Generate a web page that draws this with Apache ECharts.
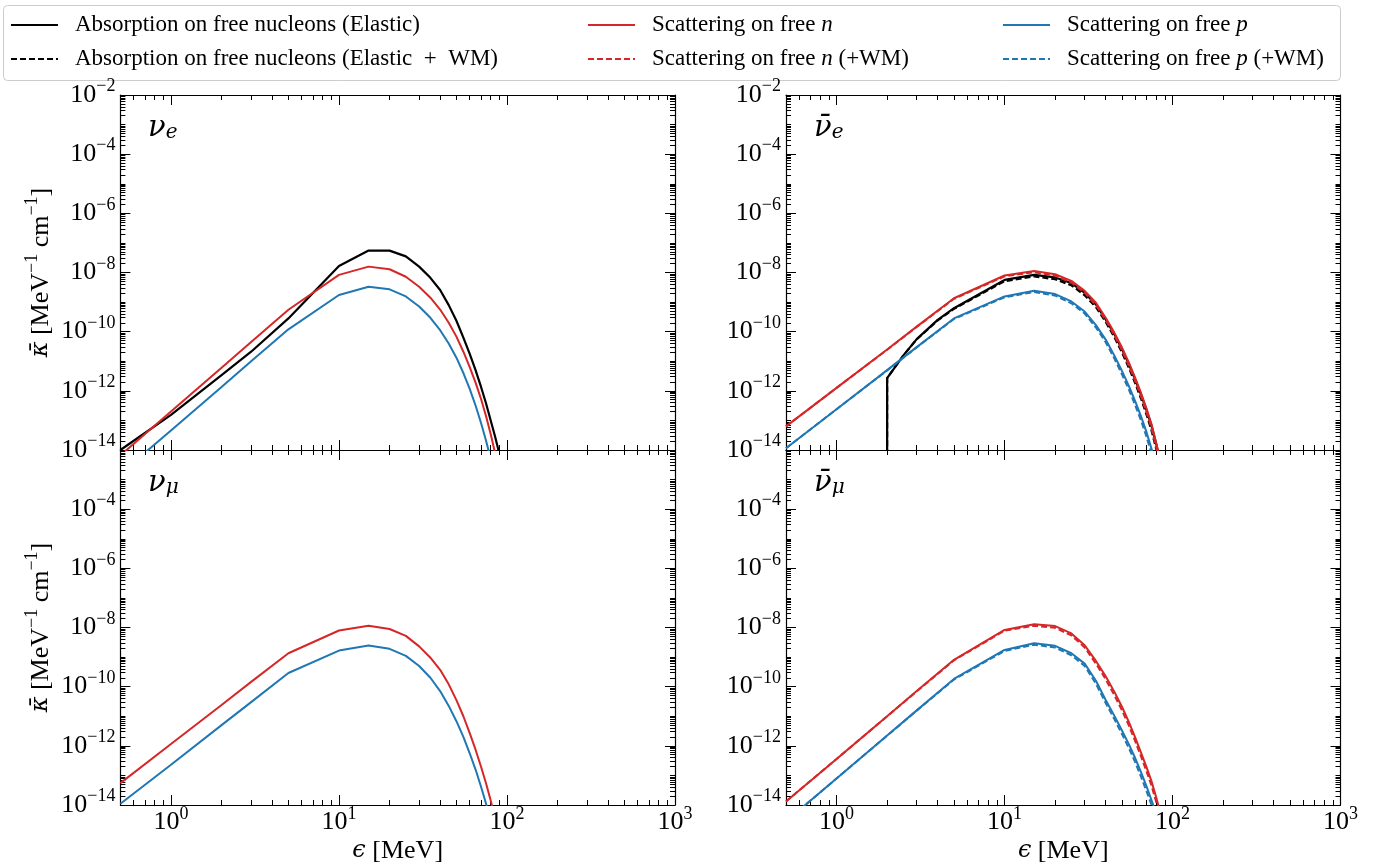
<!DOCTYPE html>
<html>
<head>
<meta charset="utf-8">
<script src="https://cdn.jsdelivr.net/npm/echarts@6/dist/echarts.min.js"></script>
<style>
html, body { margin: 0; padding: 0; background: #ffffff; }
#chart { width: 1376px; height: 865px; }
</style>
</head>
<body>
<div id="chart"></div>
<script>
// Neutrino energy grid [MeV]
const energy = [0.5, 1, 2, 3, 5, 10, 15, 20, 25, 30, 35, 40, 45, 50, 55, 60, 65, 70, 75, 80, 85, 90];
// anti-nu_e absorption has a threshold near 2 MeV (first point lies below the plotted range)
const energyAbsAnuE = [2, 2, 2.5, 3, 4, 5, 10, 15, 20, 25, 30, 35, 40, 45, 50, 55, 60, 65, 70, 75, 80, 85, 90];

// nu_e  [MeV^-1 cm^-1]
const absNuE   = [1.0e-14, 1.55e-13, 3.4e-12, 2.1e-11, 2.8e-10, 1.66e-8, 5.5e-8, 5.5e-8, 3.5e-8, 1.58e-8, 6.6e-9, 2.57e-9, 7.9e-10, 2.34e-10, 6.3e-11, 1.78e-11, 5.0e-12, 1.38e-12, 3.8e-13, 1.0e-13, 2.8e-14, 7.6e-15];
const scatNNuE = [6.6e-15, 2.0e-13, 6.0e-12, 4.5e-11, 5.5e-10, 8.3e-9, 1.58e-8, 1.29e-8, 7.2e-9, 3.3e-9, 1.41e-9, 5.6e-10, 2.0e-10, 6.8e-11, 2.1e-11, 6.3e-12, 1.9e-12, 5.4e-13, 1.41e-13, 3.4e-14, 7.9e-15, 1.8e-15];
const scatPNuE = [1.58e-15, 4.6e-14, 1.35e-12, 1.0e-11, 1.2e-10, 1.74e-9, 3.3e-9, 2.7e-9, 1.55e-9, 7.1e-10, 2.95e-10, 1.12e-10, 4.0e-11, 1.32e-11, 4.0e-12, 1.17e-12, 3.2e-13, 8.3e-14, 2.1e-14, 5.0e-15, 1.26e-15, 3.2e-16];

// anti-nu_e
const absAnuE     = [1e-16, 2.7e-12, 1.58e-11, 5.6e-11, 2.5e-10, 6.2e-10, 5.6e-9, 8.3e-9, 6.8e-9, 4.4e-9, 2.04e-9, 8.3e-10, 2.6e-10, 8.3e-11, 2.6e-11, 7.9e-12, 2.4e-12, 7.4e-13, 2.24e-13, 6.6e-14, 1.58e-14, 3.5e-15, 7.9e-16];
const absAnuEWM   = [1e-16, 2.7e-12, 1.58e-11, 5.5e-11, 2.4e-10, 5.9e-10, 5.1e-9, 7.4e-9, 5.9e-9, 3.7e-9, 1.7e-9, 6.8e-10, 2.14e-10, 6.6e-11, 2.0e-11, 6.0e-12, 1.78e-12, 5.4e-13, 1.58e-13, 4.6e-14, 1.07e-14, 2.5e-15, 5.6e-16];
const scatNAnuE   = [6.3e-14, 1.26e-12, 2.5e-11, 1.48e-10, 1.35e-9, 7.9e-9, 1.12e-8, 8.7e-9, 5.2e-9, 2.4e-9, 9.5e-10, 2.95e-10, 9.3e-11, 2.9e-11, 8.9e-12, 2.7e-12, 8.3e-13, 2.5e-13, 7.4e-14, 1.7e-14, 4.0e-15, 1.0e-15];
const scatNAnuEWM = [6.3e-14, 1.26e-12, 2.45e-11, 1.45e-10, 1.29e-9, 7.4e-9, 1.02e-8, 7.8e-9, 4.6e-9, 2.04e-9, 7.9e-10, 2.45e-10, 7.6e-11, 2.3e-11, 6.9e-12, 2.1e-12, 6.3e-13, 1.86e-13, 5.4e-14, 1.2e-14, 2.8e-15, 6.3e-16];
const scatPAnuE   = [1.15e-14, 2.4e-13, 5.0e-12, 3.0e-11, 2.8e-10, 1.55e-9, 2.4e-9, 1.86e-9, 1.05e-9, 4.8e-10, 1.66e-10, 5.4e-11, 1.58e-11, 4.7e-12, 1.45e-12, 4.4e-13, 1.35e-13, 4.0e-14, 1.1e-14, 2.8e-15, 7.9e-16, 2.0e-16];
const scatPAnuEWM = [1.15e-14, 2.4e-13, 4.9e-12, 2.95e-11, 2.7e-10, 1.45e-9, 2.2e-9, 1.66e-9, 9.1e-10, 4.1e-10, 1.38e-10, 4.4e-11, 1.26e-11, 3.6e-12, 1.1e-12, 3.2e-13, 9.8e-14, 2.8e-14, 7.6e-15, 2.0e-15, 5.0e-16, 1.26e-16];

// nu_mu
const scatNNuMu = [5.5e-14, 1.15e-12, 2.4e-11, 1.45e-10, 1.35e-9, 7.9e-9, 1.15e-8, 8.9e-9, 5.2e-9, 2.3e-9, 9.5e-10, 3.7e-10, 1.2e-10, 3.5e-11, 1.0e-11, 2.7e-12, 7.4e-13, 2.0e-13, 5.4e-14, 1.41e-14, 3.5e-15, 8.9e-16];
const scatPNuMu = [1.1e-14, 2.3e-13, 5.0e-12, 3.0e-11, 2.9e-10, 1.66e-9, 2.45e-9, 1.9e-9, 1.1e-9, 5.0e-10, 2.0e-10, 7.1e-11, 2.24e-11, 6.8e-12, 2.0e-12, 5.6e-13, 1.58e-13, 4.2e-14, 1.12e-14, 3.2e-15, 7.9e-16, 2.0e-16];

// anti-nu_mu
const scatNAnuMu   = [1.32e-14, 3.6e-13, 1.0e-11, 7.1e-11, 8.1e-10, 8.3e-9, 1.29e-8, 1.12e-8, 6.3e-9, 2.5e-9, 7.4e-10, 2.24e-10, 6.8e-11, 2.1e-11, 6.3e-12, 1.9e-12, 5.75e-13, 1.9e-13, 6.3e-14, 1.78e-14, 5.0e-15, 1.26e-15];
const scatNAnuMuWM = [1.32e-14, 3.6e-13, 1.0e-11, 6.9e-11, 7.8e-10, 7.8e-9, 1.15e-8, 9.8e-9, 5.4e-9, 2.1e-9, 6.0e-10, 1.78e-10, 5.2e-11, 1.58e-11, 4.8e-12, 1.41e-12, 4.3e-13, 1.38e-13, 4.5e-14, 1.23e-14, 3.4e-15, 8.9e-16];
const scatPAnuMu   = [2.8e-15, 7.9e-14, 2.24e-12, 1.58e-11, 1.82e-10, 1.74e-9, 2.95e-9, 2.4e-9, 1.35e-9, 6.0e-10, 1.58e-10, 3.55e-11, 1.05e-11, 3.3e-12, 1.12e-12, 3.8e-13, 1.26e-13, 4.3e-14, 1.45e-14, 5.0e-15, 1.58e-15, 5.0e-16];
const scatPAnuMuWM = [2.8e-15, 7.9e-14, 2.2e-12, 1.55e-11, 1.74e-10, 1.62e-9, 2.63e-9, 2.1e-9, 1.15e-9, 5.0e-10, 1.26e-10, 2.8e-11, 8.1e-12, 2.5e-12, 8.3e-13, 2.75e-13, 8.9e-14, 2.95e-14, 1.0e-14, 3.4e-15, 1.12e-15, 3.55e-16];

// Tick positions
const xMajorTicks = [1, 10, 100, 1000];
const yLabelTicksTop = [1e-14, 1e-12, 1e-10, 1e-8, 1e-6, 1e-4, 1e-2];
const yLabelTicksBottom = [1e-14, 1e-12, 1e-10, 1e-8, 1e-6, 1e-4];

const xMinorTicks = [];
for (let e = -1; e <= 2; e++) {
  for (let k = 2; k <= 9; k++) {
    const v = Number(k + 'e' + e);
    if (v >= 0.5) xMinorTicks.push(v);
  }
}
const yMinorTicks = [];
for (let e = -14; e <= -3; e++) {
  for (let k = 1; k <= 9; k++) {
    if (k === 1 && e % 2 === 0) continue;
    yMinorTicks.push(Number(k + 'e' + e));
  }
}

const SERIF = "'Liberation Serif', 'DejaVu Serif', serif";
const GREEK = "'DejaVu Serif', serif";
const BLACK = '#000000', RED = '#d62728', BLUE = '#1f77b4';
const NAME = {
  abs: 'Absorption on free nucleons (Elastic)',
  absWM: 'Absorption on free nucleons (Elastic + WM)',
  n: 'Scattering on free n',
  nWM: 'Scattering on free n (+WM)',
  p: 'Scattering on free p',
  pWM: 'Scattering on free p (+WM)'
};
const LEGEND_RICH_TEXT = {};
LEGEND_RICH_TEXT[NAME.abs] = '{f|Absorption on free nucleons (Elastic)}';
LEGEND_RICH_TEXT[NAME.absWM] = '{f|Absorption on free nucleons (Elastic\u2002+\u2002WM)}';
LEGEND_RICH_TEXT[NAME.n] = '{f|Scattering on free }{i|n}';
LEGEND_RICH_TEXT[NAME.nWM] = '{f|Scattering on free }{i|n}{t|\u00A0(+WM)}';
LEGEND_RICH_TEXT[NAME.p] = '{f|Scattering on free }{i|p}';
LEGEND_RICH_TEXT[NAME.pWM] = '{f|Scattering on free }{i|p}{t|\u00A0(+WM)}';

// Panel rectangles (px)
const panels = [
  { left: 120.4, top: 95, width: 554.6, height: 355, xLabels: false, yTicksLabels: yLabelTicksTop, yName: true, xName: false },
  { left: 786, top: 95, width: 554.5, height: 355, xLabels: false, yTicksLabels: yLabelTicksTop, yName: false, xName: false },
  { left: 120.4, top: 450, width: 554.6, height: 355, xLabels: true, yTicksLabels: yLabelTicksBottom, yName: true, xName: true },
  { left: 786, top: 450, width: 554.5, height: 355, xLabels: true, yTicksLabels: yLabelTicksBottom, yName: false, xName: true }
];

function pow10Label(v) {
  const e = Math.round(Math.log10(v));
  return '{b|10}{s|' + (e < 0 ? '\u2212' : '') + Math.abs(e) + '}';
}
const tickRich = {
  b: { fontFamily: SERIF, fontSize: 26, color: '#000' },
  s: { fontFamily: SERIF, fontSize: 18, color: '#000', padding: [0, 0, 17, 0] }
};

const grids = [], xAxes = [], yAxes = [];
panels.forEach((p, pi) => {
  [true, false].forEach(major => {
    const gi = grids.length;
    grids.push({ left: p.left, top: p.top, width: p.width, height: p.height, outerBoundsMode: 'none', containLabel: false });
    const xBase = {
      type: 'log', logBase: 10, gridIndex: gi, min: 0.5, max: 1000,
      splitLine: { show: false }, minorTick: { show: false }, minorSplitLine: { show: false },
      axisLine: { show: major, onZero: false, lineStyle: { color: '#000', width: 1.2 } },
      axisTick: { show: true, inside: true, length: major ? 10 : 5, lineStyle: { color: '#000', width: 1 },
                  customValues: major ? xMajorTicks : xMinorTicks },
      axisPointer: { show: false }, silent: true
    };
    const xb = Object.assign({}, xBase, { position: 'bottom' });
    if (major && p.xLabels) {
      xb.axisLabel = { show: true, customValues: xMajorTicks, margin: 0, formatter: pow10Label, rich: tickRich };
    } else {
      xb.axisLabel = { show: false };
    }
    if (major && p.xName) {
      xb.name = '{k|\u03F5}{t|\u00A0[MeV]}';
      xb.nameLocation = 'middle';
      xb.nameGap = 33;
      xb.nameTextStyle = { rich: {
        k: { fontFamily: GREEK, fontSize: 24, fontStyle: 'italic', color: '#000' },
        t: { fontFamily: SERIF, fontSize: 26, color: '#000' } } };
    }
    const xt = Object.assign({}, xBase, { position: 'top', axisLabel: { show: false } });
    xAxes.push(xb, xt);

    const yBase = {
      type: 'log', logBase: 10, gridIndex: gi, min: 1e-14, max: 1e-2,
      splitLine: { show: false }, minorTick: { show: false }, minorSplitLine: { show: false },
      axisLine: { show: major, onZero: false, lineStyle: { color: '#000', width: 1.2 } },
      axisTick: { show: true, inside: true, length: major ? 10 : 5, lineStyle: { color: '#000', width: 1 },
                  customValues: major ? yLabelTicksTop : yMinorTicks },
      axisPointer: { show: false }, silent: true
    };
    const yl = Object.assign({}, yBase, { position: 'left' });
    if (major) {
      yl.axisLabel = { show: true, customValues: p.yTicksLabels, margin: 5, formatter: pow10Label, rich: tickRich };
    } else {
      yl.axisLabel = { show: false };
    }
    if (major && p.yName) {
      yl.name = '{k|\u03BA\u0304}{t|\u00A0[MeV}{s|\u22121}{t|\u00A0cm}{s|\u22121}{t|]}';
      yl.nameLocation = 'middle';
      yl.nameRotate = 90;
      yl.nameGap = 62;
      yl.nameTextStyle = { rich: {
        k: { fontFamily: GREEK, fontSize: 24, fontStyle: 'italic', color: '#000' },
        t: { fontFamily: SERIF, fontSize: 26, color: '#000' },
        s: { fontFamily: SERIF, fontSize: 18, color: '#000', padding: [0, 0, 17, 0] } } };
    }
    const yr = Object.assign({}, yBase, { position: 'right', axisLabel: { show: false } });
    yAxes.push(yl, yr);
  });
});

function line(name, panel, xs, ys, color, dashed, width) {
  return {
    type: 'line', name: name,
    xAxisIndex: panel * 4, yAxisIndex: panel * 4,
    data: xs.map((x, i) => [x, ys[i]]),
    symbol: 'none', showSymbol: false, clip: true, silent: true, animation: false,
    lineStyle: { color: color, width: width || 2, type: dashed ? [6, 3] : 'solid' },
    itemStyle: { color: color },
    emphasis: { disabled: true }
  };
}

const series = [
  // nu_e
  line(NAME.abs, 0, energy, absNuE, BLACK, false, 2.2),
  line(NAME.n, 0, energy, scatNNuE, RED, false),
  line(NAME.p, 0, energy, scatPNuE, BLUE, false),
  // anti-nu_e
  line(NAME.abs, 1, energyAbsAnuE, absAnuE, BLACK, false, 2.2),
  line(NAME.absWM, 1, energyAbsAnuE, absAnuEWM, BLACK, true, 2.2),
  line(NAME.n, 1, energy, scatNAnuE, RED, false),
  line(NAME.nWM, 1, energy, scatNAnuEWM, RED, true),
  line(NAME.p, 1, energy, scatPAnuE, BLUE, false),
  line(NAME.pWM, 1, energy, scatPAnuEWM, BLUE, true),
  // nu_mu
  line(NAME.n, 2, energy, scatNNuMu, RED, false),
  line(NAME.p, 2, energy, scatPNuMu, BLUE, false),
  // anti-nu_mu
  line(NAME.n, 3, energy, scatNAnuMu, RED, false),
  line(NAME.nWM, 3, energy, scatNAnuMuWM, RED, true),
  line(NAME.p, 3, energy, scatPAnuMu, BLUE, false),
  line(NAME.pWM, 3, energy, scatPAnuMuWM, BLUE, true)
];

const LEG_FS = 23;
const legendRich = {
  f: { fontFamily: SERIF, fontSize: LEG_FS, color: '#000', padding: [0, 0, 0, 12] },
  t: { fontFamily: SERIF, fontSize: LEG_FS, color: '#000' },
  i: { fontFamily: SERIF, fontSize: LEG_FS, color: '#000', fontStyle: 'italic' }
};
function legendColumn(left, names) {
  return {
    orient: 'vertical', left: left, top: 13, data: names,
    itemWidth: 47, itemHeight: 14, itemGap: 10, padding: 0,
    selectedMode: false, z: 10,
    itemStyle: { opacity: 0, borderWidth: 0 },
    formatter: n => LEGEND_RICH_TEXT[n],
    textStyle: { fontFamily: SERIF, fontSize: LEG_FS, color: '#000', lineHeight: 24, rich: legendRich }
  };
}

function panelTitle(left, top, sym, sub) {
  return {
    text: '{g|' + sym + '}{u|' + sub + '}', left: left, top: top, padding: 0,
    textStyle: { fontWeight: 'normal', rich: {
      g: { fontFamily: GREEK, fontSize: 29, fontStyle: 'italic', fontWeight: 'normal', color: '#000' },
      u: { fontFamily: GREEK, fontSize: 20, fontStyle: 'italic', fontWeight: 'normal', color: '#000', padding: [10, 0, 0, 0] } } }
  };
}

const chart = echarts.init(document.getElementById('chart'), null, { renderer: 'canvas' });
chart.setOption({
  backgroundColor: '#ffffff',
  animation: false,
  tooltip: { show: false },
  title: [
    panelTitle(148, 113, '\u03BD', 'e'),
    panelTitle(814, 113, '\u03BD\u0304', 'e'),
    panelTitle(148, 468, '\u03BD', '\u03BC'),
    panelTitle(814, 468, '\u03BD\u0304', '\u03BC')
  ],
  legend: [
    legendColumn(10, [NAME.abs, NAME.absWM]),
    legendColumn(587, [NAME.n, NAME.nWM]),
    legendColumn(1002, [NAME.p, NAME.pWM])
  ],
  graphic: [{
    type: 'rect', z: 0, silent: true,
    shape: { x: 3.5, y: 5.5, width: 1337, height: 75, r: 4 },
    style: { fill: '#ffffff', stroke: '#cccccc', lineWidth: 1 }
  }],
  grid: grids,
  xAxis: xAxes,
  yAxis: yAxes,
  series: series
});
</script>
</body>
</html>
